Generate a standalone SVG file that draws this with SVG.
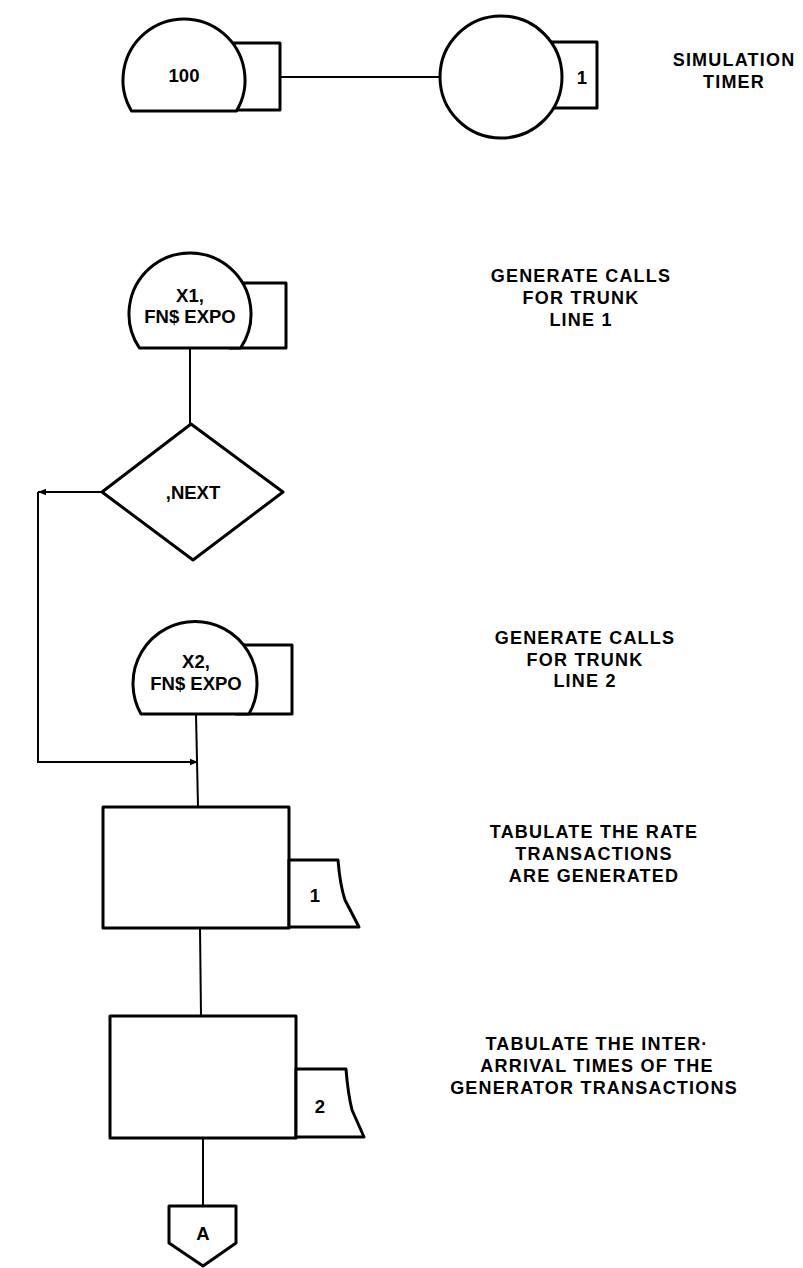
<svg xmlns="http://www.w3.org/2000/svg" width="803" height="1268" viewBox="0 0 803 1268">
<style>
.n{fill:#fff;stroke:#000;stroke-width:3;stroke-linejoin:round}
.c{fill:none;stroke:#000;stroke-width:2}
.t{font-family:"Liberation Sans",Arial,sans-serif;font-weight:bold;font-size:18.5px;fill:#000;text-anchor:middle}
.d{font-family:"Liberation Sans",Arial,sans-serif;font-weight:bold;font-size:18px;letter-spacing:1.2px;fill:#000;text-anchor:middle}
</style>
<defs>
<marker id="ahb" viewBox="0 0 10 10" refX="10" refY="5" markerWidth="12" markerHeight="8" orient="auto" markerUnits="userSpaceOnUse">
<path d="M0,1 L10,5 L0,9 Z" fill="#000"/>
</marker>
</defs>
<rect width="803" height="1268" fill="#fff"/>
<g id="connectors">
<path class="c" d="M280,77 H440"/>
<path class="c" d="M190,348 V424"/>
<path class="c" d="M102,492 H38" marker-end="url(#ahb)"/>
<path class="c" d="M38,492 V762 H198" marker-end="url(#ahb)"/>
<path class="c" d="M196,714 L198,807"/>
<path class="c" d="M200,928 L201,1016"/>
<path class="c" d="M203,1138 V1206"/>
</g>
<g id="timer100">
<rect class="n" x="230" y="43" width="50" height="67"/>
<path class="n" d="M131.5,111 A61,61 0 1 1 236.5,111 Z"/>
<text class="t" x="184" y="82">100</text>
</g>
<g id="timer1">
<rect class="n" x="545" y="42" width="52" height="66"/>
<circle class="n" cx="501" cy="77" r="61"/>
<text class="t" x="582" y="84">1</text>
</g>
<g id="gen1">
<rect class="n" x="230" y="283" width="56" height="65"/>
<path class="n" d="M139.4,348 A61,61 0 1 1 240.6,348 Z"/>
<text class="t" x="190" y="302">X1,</text>
<text class="t" x="190" y="323">FN$ EXPO</text>
</g>
<g id="test">
<path class="n" d="M191,424 L283,492 L193,560 L102,492 Z"/>
<text class="t" x="193" y="499">,NEXT</text>
</g>
<g id="gen2">
<rect class="n" x="236" y="645" width="56" height="69"/>
<path class="n" d="M141,714 A62,62 0 1 1 249,714 Z"/>
<text class="t" x="196" y="668">X2,</text>
<text class="t" x="196" y="690">FN$ EXPO</text>
</g>
<g id="tab1">
<rect class="n" x="103" y="807" width="186" height="121"/>
<path class="n" d="M289,860 H338 Q340,885 345,900 L359,927 H289 Z"/>
<text class="t" x="315" y="902">1</text>
</g>
<g id="tab2">
<rect class="n" x="110" y="1016" width="186" height="122"/>
<path class="n" d="M296,1069 H346 Q348,1094 352,1110 L364,1137 H296 Z"/>
<text class="t" x="320" y="1113">2</text>
</g>
<g id="connA">
<path class="n" d="M169,1206 H236 V1243 L203,1266 L169,1243 Z"/>
<text class="t" x="203" y="1240">A</text>
</g>
<g id="labels">
<text class="d" x="734" y="66">SIMULATION</text>
<text class="d" x="734" y="88">TIMER</text>
<text class="d" x="581" y="282">GENERATE CALLS</text>
<text class="d" x="581" y="304">FOR TRUNK</text>
<text class="d" x="581" y="326">LINE 1</text>
<text class="d" x="585" y="644">GENERATE CALLS</text>
<text class="d" x="585" y="665.5">FOR TRUNK</text>
<text class="d" x="585" y="687">LINE 2</text>
<text class="d" x="594" y="838">TABULATE THE RATE</text>
<text class="d" x="594" y="860">TRANSACTIONS</text>
<text class="d" x="594" y="882">ARE GENERATED</text>
<text class="d" x="597" y="1050">TABULATE THE INTER·</text>
<text class="d" x="597" y="1072">ARRIVAL TIMES OF THE</text>
<text class="d" x="594" y="1094">GENERATOR TRANSACTIONS</text>
</g>
</svg>
